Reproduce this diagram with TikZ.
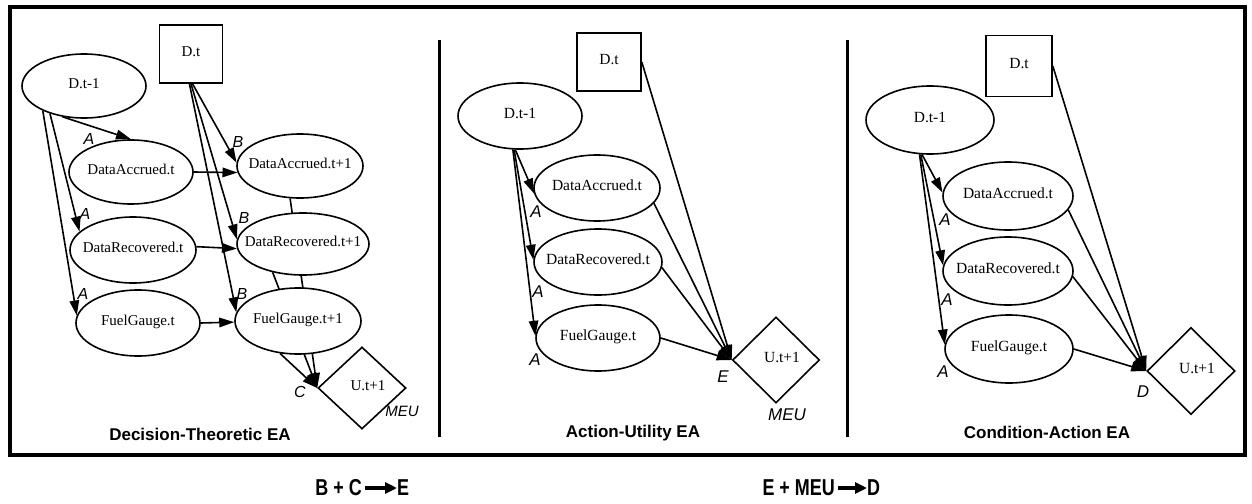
\documentclass[tikz,border=0pt]{standalone}
\usepackage{fontspec}
\setmainfont{Liberation Serif}
\setsansfont{Liberation Sans}
\usetikzlibrary{shapes.geometric,arrows.meta,backgrounds}

% zero-width box so node text never enlarges the shape
\newcommand{\nt}[1]{\makebox[0pt]{#1}}

\begin{document}
\begin{tikzpicture}[x=1pt,y=-1pt,
  every node/.style={inner sep=0pt},
  ell/.style={ellipse, draw, line width=1.6pt, fill=white, text height=1.5ex, text depth=.25ex},
  dbox/.style={rectangle, draw, line width=1.6pt, fill=white, text height=1.5ex, text depth=.25ex},
  util/.style={diamond, draw, line width=1.6pt, fill=white, text height=1.5ex, text depth=.25ex},
  sz/.style 2 args={minimum width=#1pt, minimum height=#2pt},
  arc/.style={line width=1.6pt, -{Triangle[length=15pt,width=9.5pt]}},
  fa/.style={font=\fontsize{15}{15}\selectfont},
  fb/.style={font=\fontsize{15.5}{15.5}\selectfont},
  laba/.style={font=\fontsize{16}{16}\selectfont\sffamily\itshape},
  labb/.style={font=\fontsize{17}{17}\selectfont\sffamily\itshape},
  ttl/.style={font=\fontsize{17}{17}\selectfont\sffamily\bfseries},
  eqn/.style={font=\fontsize{23}{23}\selectfont\sffamily\bfseries},
  eqarrow/.style={line width=3.5pt, -{Triangle[length=12pt,width=11pt]}},
]
\useasboundingbox (0,0) rectangle (1252,503);

% frame and panel separators
\draw[line width=3.5pt] (10,7) rectangle (1245,455);
\draw[line width=3pt] (439,40) -- (439,437);
\draw[line width=3pt] (847,40) -- (847,437);

% ---------- Decision-Theoretic EA ----------
\begin{scope}[fa]
\node[ell, sz={124}{64}] (p1d1) at (84,86) {\nt{D.t-1}};
\node[dbox, sz={63}{58}] (p1dt) at (191,54) {\nt{D.t}};
\node[ell, sz={124}{64}] (p1da) at (131,172) {\nt{DataAccrued.t}};
\node[ell, sz={126}{64}] (p1da1) at (300,166) {\nt{DataAccrued.t+1}};
\node[ell, sz={126}{66}] (p1dr) at (133,250) {\nt{DataRecovered.t}};
\node[ell, sz={132}{62}] (p1dr1) at (303,244) {\nt{DataRecovered.t+1}};
\node[ell, sz={124}{66}] (p1fg) at (138,323) {\nt{FuelGauge.t}};
\node[ell, sz={126}{66}] (p1fg1) at (298,321) {\nt{FuelGauge.t+1}};
\node[util, sz={88}{82}] (p1u) at (362,388) {\nt{\hspace{12pt}U.t+1}};
\end{scope}
\begin{scope}[on background layer]
\draw[arc] (p1d1.-125) -- (p1da.north);
\draw[arc] (p1d1.-141.5) -- (p1dr.161);
\draw[arc] (p1d1.-149.6) -- (p1fg.173.5);
\draw[arc] (p1dt.-87) -- (p1da1.177);
\draw[arc] (p1dt.-90) -- (p1dr1.176.5);
\draw[arc] (p1dt.-93) -- (p1fg1.172);
\draw[arc] (p1da.east) -- (p1da1.-174.5);
\draw[arc] (p1dr.3) -- (p1dr1.-176.5);
\draw[arc] (p1fg.0) -- (p1fg1.-179);
\draw[arc] (p1da1.-107) -- (p1u.west);
\draw[arc] (p1dr1.-137) -- (p1u.west);
\draw[arc] (p1fg1.-119.7) -- (p1u.west);
\end{scope}
\node[laba] (p1la) at (89,139) {A};
\node[laba] (p1lb) at (85,214) {A};
\node[laba] (p1lc) at (83,294) {A};
\node[laba] (p1ld) at (238,142) {B};
\node[laba] (p1le) at (244,218) {B};
\node[laba] (p1lf) at (242,294) {B};
\node[laba] (p1lg) at (300,392) {C};
\node[laba, font=\fontsize{15}{15}\selectfont\sffamily\itshape] (p1lh) at (402,411) {MEU};
\node[ttl] (p1t) at (200,434) {Decision-Theoretic EA};

% ---------- Action-Utility EA ----------
\begin{scope}[fb]
\node[ell, sz={124}{66}] (p2d1) at (520,116) {\nt{D.t-1}};
\node[dbox, sz={64}{58}] (p2dt) at (609,62) {\nt{D.t}};
\node[ell, sz={126}{66}] (p2da) at (597,188) {\nt{DataAccrued.t}};
\node[ell, sz={128}{66}] (p2dr) at (598,262) {\nt{DataRecovered.t}};
\node[ell, sz={124}{66}] (p2fg) at (598,338) {\nt{FuelGauge.t}};
\node[util, sz={87}{86}] (p2u) at (776,360) {\nt{\hspace{12pt}U.t+1}};
\end{scope}
\begin{scope}[on background layer]
\draw[arc] (p2d1.-98) -- (p2da.-175.5);
\draw[arc] (p2d1.-100) -- (p2dr.178);
\draw[arc] (p2d1.-102) -- (p2fg.178);
\draw[arc] (p2dt.east) -- (p2u.west);
\draw[arc] (p2da.-15.8) -- (p2u.west);
\draw[arc] (p2dr.-5.4) -- (p2u.west);
\draw[arc] (p2fg.east) -- (p2u.west);
\end{scope}
\node[labb] (p2la) at (536,212) {A};
\node[labb] (p2lb) at (538,292) {A};
\node[labb] (p2lc) at (535,360) {A};
\node[labb] (p2ld) at (723,377) {E};
\node[labb] (p2le) at (787,415) {MEU};
\node[ttl] (p2t) at (633,433) {Action-Utility EA};

% ---------- Condition-Action EA ----------
\begin{scope}[fb]
\node[ell, sz={128}{68}] (p3d1) at (930,120) {\nt{D.t-1}};
\node[dbox, sz={66}{61}] (p3dt) at (1019,66) {\nt{D.t}};
\node[ell, sz={130}{68}] (p3da) at (1008,196) {\nt{DataAccrued.t}};
\node[ell, sz={130}{68}] (p3dr) at (1008,271) {\nt{DataRecovered.t}};
\node[ell, sz={128}{68}] (p3fg) at (1009,349) {\nt{FuelGauge.t}};
\node[util, sz={88}{87}] (p3u) at (1191,371) {\nt{\hspace{12pt}U.t+1}};
\end{scope}
\begin{scope}[on background layer]
\draw[arc] (p3d1.-103) -- (p3da.177);
\draw[arc] (p3d1.-105) -- (p3dr.175);
\draw[arc] (p3d1.-107) -- (p3fg.176);
\draw[arc] (p3dt.east) -- (p3u.west);
\draw[arc] (p3da.-13.3) -- (p3u.west);
\draw[arc] (p3dr.-5) -- (p3u.west);
\draw[arc] (p3fg.east) -- (p3u.west);
\end{scope}
\node[labb] (p3la) at (945,220) {A};
\node[labb] (p3lb) at (947,300) {A};
\node[labb] (p3lc) at (943,372) {A};
\node[labb] (p3ld) at (1143,392) {D};
\node[ttl] (p3t) at (1047,432) {Condition-Action EA};

% ---------- combination rules below the frame ----------
\node[eqn, anchor=east] (bc) at (362,488) {\scalebox{0.78}[1]{B + C}};
\node[eqn, anchor=west] (ee) at (397,488) {\scalebox{0.78}[1]{E}};
\draw[eqarrow] (bc.east) ++(3,0) coordinate (bcx) -- (ee.west);
\node[eqn, anchor=east] (emeu) at (835,488) {\scalebox{0.78}[1]{E + MEU}};
\node[eqn, anchor=west] (dd) at (867,488) {\scalebox{0.78}[1]{D}};
\draw[eqarrow] (emeu.east) ++(3,0) coordinate (emx) -- (dd.west);
\end{tikzpicture}
\end{document}
